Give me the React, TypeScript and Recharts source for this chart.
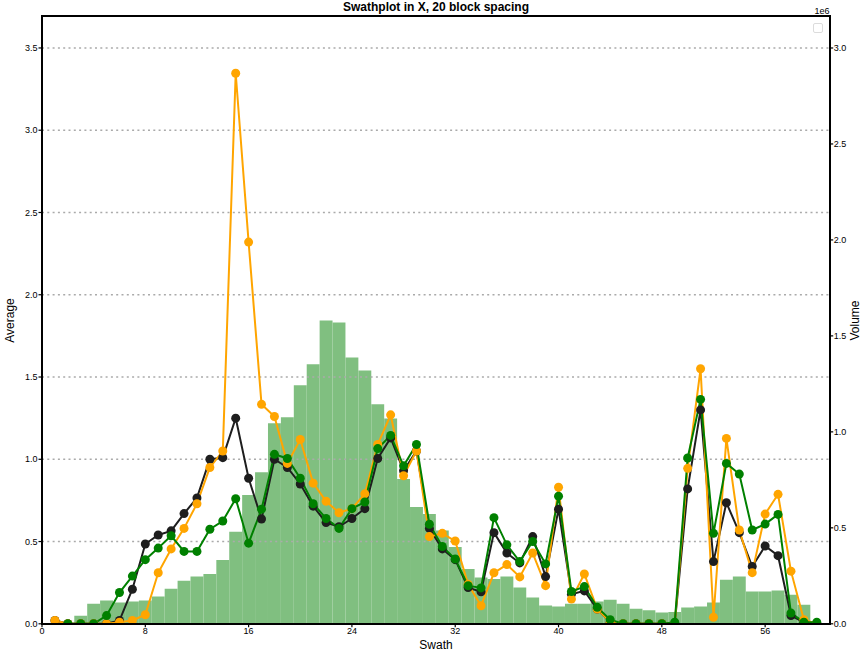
import React from 'react';
import { ComposedChart, Bar, Line, XAxis, YAxis, CartesianGrid } from 'recharts';

const swath = [
  1, 2, 3, 4, 5, 6, 7, 8, 9, 10, 11, 12, 13, 14, 15, 16, 17, 18, 19, 20,
  21, 22, 23, 24, 25, 26, 27, 28, 29, 30, 31, 32, 33, 34, 35, 36, 37, 38, 39, 40,
  41, 42, 43, 44, 45, 46, 47, 48, 49, 50, 51, 52, 53, 54, 55, 56, 57, 58, 59, 60,
];

const blackAvg = [
  0.02, 0.0, 0.0, 0.0, 0.0, 0.02, 0.21, 0.485, 0.54, 0.565, 0.67, 0.765, 1.0, 1.01, 1.25, 0.885, 0.637, 1.0, 0.95, 0.85,
  0.715, 0.615, 0.59, 0.64, 0.7, 1.005, 1.13, 0.93, 1.05, 0.58, 0.455, 0.39, 0.22, 0.195, 0.554, 0.43, 0.37, 0.53, 0.287, 0.697,
  0.18, 0.2, 0.09, 0.01, 0.0, 0.0, 0.0, 0.0, 0.0, 0.82, 1.3, 0.378, 0.736, 0.554, 0.348, 0.473, 0.414, 0.05, 0.01, 0.0,
];

const orangeAvg = [
  0.02, 0.0, 0.0, 0.0, 0.0, 0.01, 0.02, 0.055, 0.31, 0.455, 0.58, 0.73, 0.95, 1.05, 3.346, 2.32, 1.334, 1.26, 0.975, 1.12,
  0.855, 0.745, 0.675, 0.7, 0.79, 1.09, 1.27, 0.9, 1.05, 0.53, 0.55, 0.503, 0.24, 0.11, 0.31, 0.36, 0.285, 0.43, 0.232, 0.83,
  0.15, 0.303, 0.09, 0.01, 0.0, 0.0, 0.0, 0.0, 0.0, 0.945, 1.55, 0.04, 1.127, 0.57, 0.311, 0.667, 0.787, 0.32, 0.025, 0.0,
];

const greenAvg = [
  null, 0.0, 0.0, 0.0, 0.05, 0.19, 0.29, 0.39, 0.46, 0.535, 0.44, 0.44, 0.575, 0.625, 0.76, 0.49, 0.697, 1.03, 1.005, 0.885,
  0.73, 0.64, 0.58, 0.7, 0.74, 1.065, 1.145, 0.96, 1.09, 0.605, 0.47, 0.394, 0.232, 0.218, 0.645, 0.48, 0.378, 0.5, 0.364, 0.776,
  0.196, 0.226, 0.1, 0.025, 0.0, 0.0, 0.0, 0.0, 0.01, 1.008, 1.364, 0.55, 0.975, 0.91, 0.57, 0.606, 0.665, 0.065, 0.01, 0.01,
];

const volume = [
  0, 0, 42000, 104000, 121000, 111000, 116000, 121000, 142000, 182000, 224000, 246000, 260000, 333000, 480000, 671000, 790000, 1045000, 1076000, 1243000,
  1352000, 1580000, 1570000, 1388000, 1320000, 1144000, 1070000, 754000, 608000, 572000, 486000, 400000, 286000, 241000, 234000, 246000, 189000, 137000, 95000, 90000,
  104000, 104000, 116000, 125000, 104000, 78000, 71000, 59000, 61000, 85000, 90000, 111000, 229000, 246000, 168000, 168000, 173000, 151000, 99000, 0,
];

const xTicks = [0, 8, 16, 24, 32, 40, 48, 56];
const leftTicks = [0, 0.5, 1.0, 1.5, 2.0, 2.5, 3.0, 3.5];
const rightTicks = [0, 500000, 1000000, 1500000, 2000000, 2500000, 3000000];

const FONT = '"Liberation Sans", Arial, Helvetica, sans-serif';

const rows = swath.map((s, i) => ({
  swath: s,
  black: blackAvg[i],
  orange: orangeAvg[i],
  green: greenAvg[i],
  volume: volume[i],
}));

const BLACK = '#1e1e1e';
const ORANGE = '#ffa500';
const GREEN = '#008000';

export default function App() {
  const tickStyle = { fontSize: 9, fill: '#000', fontFamily: FONT };
  const dot = (c: string) => ({ r: 4.5, fill: c, stroke: c, strokeWidth: 0 });
  return (
    <div style={{ position: 'absolute', left: 0, top: 0, width: 866, height: 657, background: '#fff', fontFamily: FONT }}>
      <ComposedChart
        width={866}
        height={657}
        data={rows}
        margin={{ top: 16.7, right: 6.3, left: 8, bottom: 13.2 }}
        barGap={0}
        barCategoryGap={0}
      >
        <XAxis
          dataKey="swath"
          type="number"
          domain={[0, 61]}
          ticks={xTicks}
          interval={0}
          allowDataOverflow
          axisLine={false}
          tickLine={{ stroke: '#000', strokeWidth: 1.2 }}
          tickSize={3.5}
          tickMargin={0.5}
          tick={tickStyle}
          height={20}
        />
        <YAxis
          yAxisId="left"
          orientation="left"
          type="number"
          domain={[0, 3.69]}
          ticks={leftTicks}
          interval={0}
          allowDataOverflow
          axisLine={false}
          tickLine={{ stroke: '#000', strokeWidth: 1.2 }}
          tickSize={3.5}
          tickMargin={1}
          tick={tickStyle}
          width={34}
          tickFormatter={(v: number) => v.toFixed(1)}
        />
        <YAxis
          yAxisId="right"
          orientation="right"
          type="number"
          domain={[0, 3163000]}
          ticks={rightTicks}
          interval={0}
          allowDataOverflow
          axisLine={false}
          tickLine={{ stroke: '#000', strokeWidth: 1.2 }}
          tickSize={3.5}
          tickMargin={0.5}
          tick={tickStyle}
          width={30}
          tickFormatter={(v: number) => (v / 1e6).toFixed(1)}
        />
        <Bar yAxisId="right" dataKey="volume" fill="#80bf80" barSize={12.91} isAnimationActive={false} />
        <CartesianGrid
          yAxisId="left"
          vertical={false}
          horizontalValues={leftTicks}
          strokeDasharray="2 3.3"
          stroke="#aaaaaa"
          strokeWidth={1.6}
          zIndex={350}
        />
        <Line yAxisId="left" dataKey="black" type="linear" stroke={BLACK} strokeWidth={2} dot={dot(BLACK)} activeDot={false} isAnimationActive={false} />
        <Line yAxisId="left" dataKey="orange" type="linear" stroke={ORANGE} strokeWidth={2} dot={dot(ORANGE)} activeDot={false} isAnimationActive={false} />
        <Line yAxisId="left" dataKey="green" type="linear" stroke={GREEN} strokeWidth={2} dot={dot(GREEN)} activeDot={false} isAnimationActive={false} />
      </ComposedChart>

      {/* frame (spines) */}
      <div style={{ position: 'absolute', left: 40.75, top: 15.45, width: 790.2, height: 609.6, boxSizing: 'border-box', border: '2.5px solid #000', pointerEvents: 'none' }} />

      {/* empty legend box */}
      <div style={{ position: 'absolute', left: 813, top: 23, width: 10, height: 10, boxSizing: 'border-box', border: '1px solid #dcdcdc', borderRadius: 2, background: '#fff' }} />

      {/* title */}
      <div style={{ position: 'absolute', left: 236, width: 400, top: 0, lineHeight: '14px', textAlign: 'center', fontSize: 12, fontWeight: 'bold', color: '#000' }}>
        Swathplot in X, 20 block spacing
      </div>

      {/* offset text */}
      <div style={{ position: 'absolute', left: 779.5, width: 50, top: 6, lineHeight: '11px', textAlign: 'right', fontSize: 9, color: '#000' }}>
        1e6
      </div>

      {/* x label */}
      <div style={{ position: 'absolute', left: 336, width: 200, top: 638, lineHeight: '15px', textAlign: 'center', fontSize: 12, color: '#000' }}>
        Swath
      </div>

      {/* left y label */}
      <div style={{ position: 'absolute', left: 10, top: 320, width: 0, height: 0 }}>
        <div style={{ position: 'absolute', left: -60, top: -7.5, width: 120, lineHeight: '15px', textAlign: 'center', fontSize: 12, color: '#000', transform: 'rotate(-90deg)' }}>
          Average
        </div>
      </div>

      {/* right y label */}
      <div style={{ position: 'absolute', left: 855, top: 320, width: 0, height: 0 }}>
        <div style={{ position: 'absolute', left: -60, top: -7.5, width: 120, lineHeight: '15px', textAlign: 'center', fontSize: 12, color: '#000', transform: 'rotate(-90deg)' }}>
          Volume
        </div>
      </div>
    </div>
  );
}
